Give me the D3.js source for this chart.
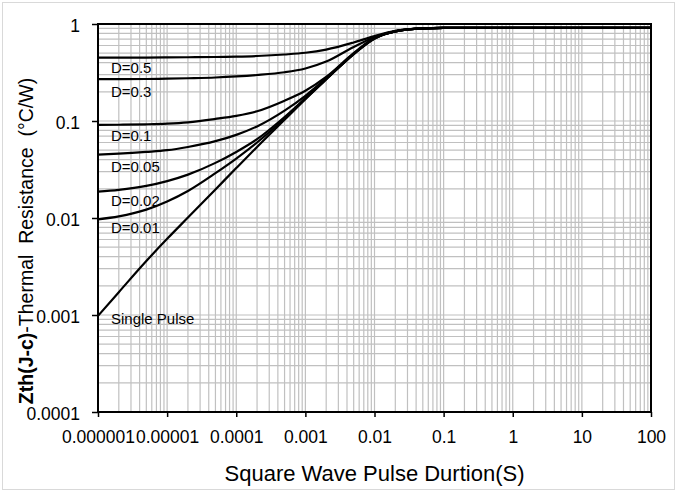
<!DOCTYPE html>
<html>
<head>
<meta charset="utf-8">
<script src="https://cdn.jsdelivr.net/npm/d3@7"></script>
<style>
  body { margin: 0; background: #fff; }
  text { font-family: "Liberation Sans", Arial, sans-serif; fill: #000; }
</style>
</head>
<body>
<svg id="chart"></svg>
<script>
// pulse duration (s) and Zth(j-c)
const durations = [1e-6, 2e-6, 5e-6, 1e-5, 2e-5, 5e-5, 1e-4, 2e-4, 5e-4, 1e-3, 2e-3, 5e-3, 1e-2, 2e-2, 5e-2, 0.1, 1, 10, 100];
const duty05 = [0.450, 0.450, 0.451, 0.452, 0.454, 0.457, 0.461, 0.468, 0.485, 0.505, 0.545, 0.645, 0.75, 0.85, 0.90, 0.91, 0.91, 0.91, 0.91];
const duty03 = [0.270, 0.270, 0.271, 0.273, 0.276, 0.281, 0.288, 0.298, 0.318, 0.348, 0.41, 0.58, 0.73, 0.845, 0.90, 0.91, 0.91, 0.91, 0.91];
const duty01 = [0.091, 0.0915, 0.0925, 0.094, 0.097, 0.105, 0.113, 0.126, 0.162, 0.205, 0.285, 0.50, 0.72, 0.84, 0.90, 0.91, 0.91, 0.91, 0.91];
const duty005 = [0.045, 0.046, 0.048, 0.050, 0.054, 0.062, 0.072, 0.088, 0.128, 0.182, 0.275, 0.495, 0.715, 0.84, 0.90, 0.91, 0.91, 0.91, 0.91];
const duty002 = [0.0187, 0.0195, 0.0214, 0.024, 0.028, 0.037, 0.048, 0.065, 0.110, 0.172, 0.272, 0.49, 0.71, 0.84, 0.90, 0.91, 0.91, 0.91, 0.91];
const duty001 = [0.0097, 0.0104, 0.0122, 0.0148, 0.019, 0.029, 0.041, 0.060, 0.106, 0.170, 0.27, 0.49, 0.71, 0.84, 0.90, 0.91, 0.91, 0.91, 0.91];
const singlePulse = [0.00098, 0.00172, 0.0036, 0.0061, 0.0101, 0.0197, 0.0327, 0.054, 0.103, 0.168, 0.268, 0.49, 0.71, 0.84, 0.90, 0.91, 0.91, 0.91, 0.91];

const seriesNames = ["D=0.5", "D=0.3", "D=0.1", "D=0.05", "D=0.02", "D=0.01", "Single Pulse"];
const seriesValues = [duty05, duty03, duty01, duty005, duty002, duty001, singlePulse];

const xTicks = [1e-6, 1e-5, 1e-4, 1e-3, 1e-2, 0.1, 1, 10, 100];
const xTickLabels = ["0.000001", "0.00001", "0.0001", "0.001", "0.01", "0.1", "1", "10", "100"];
const yTicks = [1e-4, 1e-3, 1e-2, 0.1, 1];
const yTickLabels = ["0.0001", "0.001", "0.01", "0.1", "1"];

const margin = {top: 24, right: 26, bottom: 80, left: 98},
    svgWidth = 677,
    svgHeight = 492,
    width = svgWidth - margin.left - margin.right,
    height = svgHeight - margin.top - margin.bottom;

const chart = d3.select('#chart')
    .attr("width", svgWidth)
    .attr("height", svgHeight);

// light outer frame
chart.append("rect")
    .attr("x", 2.5).attr("y", 2.5)
    .attr("width", svgWidth - 5).attr("height", svgHeight - 5)
    .attr("fill", "none")
    .attr("stroke", "#d9d9d9");

const innerChart = chart.append("g")
    .attr("transform", "translate(" + margin.left + "," + margin.top + ")");

var xScale = d3.scaleLog().domain([1e-6, 100]).range([0, width]);
var yScale = d3.scaleLog().domain([1e-4, 1]).range([height, 0]);

// grid
innerChart.append("g").selectAll("line")
    .data(xScale.ticks())
    .enter().append("line")
    .attr("x1", d => xScale(d)).attr("x2", d => xScale(d))
    .attr("y1", 0).attr("y2", height)
    .attr("stroke", "#c0c0c0").attr("stroke-width", 1.2);

innerChart.append("g").selectAll("line")
    .data(yScale.ticks())
    .enter().append("line")
    .attr("y1", d => yScale(d)).attr("y2", d => yScale(d))
    .attr("x1", 0).attr("x2", width)
    .attr("stroke", "#c0c0c0").attr("stroke-width", 1.2);

var xAxis = d3.axisBottom(xScale)
    .tickValues(xTicks)
    .tickSize(5)
    .tickSizeOuter(0)
    .tickPadding(14)
    .tickFormat((d, i) => xTickLabels[i]);

var yAxis = d3.axisLeft(yScale)
    .tickValues(yTicks)
    .tickSize(6)
    .tickSizeOuter(0)
    .tickPadding(12)
    .tickFormat((d, i) => yTickLabels[i]);

const gx = innerChart.append("g")
    .attr("transform", "translate(0," + height + ")")
    .call(xAxis);
const gy = innerChart.append("g").call(yAxis);

[gx, gy].forEach(g => {
    g.select(".domain").remove();
    g.selectAll(".tick line").attr("stroke", "#000").attr("stroke-width", 1.5);
    g.selectAll(".tick text")
        .style("font-family", '"Liberation Sans", Arial, sans-serif')
        .style("font-size", "17.5px");
});
gy.selectAll(".tick text").attr("dy", "0.45em");

// curves
var valueline = d3.line()
    .x(d => xScale(d.t))
    .y(d => yScale(d.z))
    .curve(d3.curveMonotoneX);

seriesValues.forEach(function(vals) {
    innerChart.append("path")
        .datum(durations.map((t, i) => ({t: t, z: vals[i]})))
        .attr("fill", "none")
        .attr("stroke", "#000")
        .attr("stroke-width", 2.2)
        .attr("d", valueline);
});

// plot frame
innerChart.append("rect")
    .attr("width", width).attr("height", height)
    .attr("fill", "none")
    .attr("stroke", "#000")
    .attr("stroke-width", 2);

// curve labels
const labelY = [73, 97, 141, 172, 206, 233, 324];
seriesNames.forEach(function(name, i) {
    chart.append("text")
        .attr("x", 111)
        .attr("y", labelY[i])
        .style("font-size", "15px")
        .text(name);
});

// axis titles
chart.append("text")
    .attr("x", margin.left + width / 2)
    .attr("y", 481)
    .attr("text-anchor", "middle")
    .style("font-size", "22px")
    .text("Square Wave Pulse Durtion(S)");

const yTitle = chart.append("text")
    .attr("transform", "translate(33,241) rotate(-90)")
    .attr("text-anchor", "middle")
    .style("font-size", "19.5px")
    .style("white-space", "pre");
yTitle.append("tspan").style("font-weight", "bold").text("Zth(J-c)");
yTitle.append("tspan").text("-Thermal  Resistance  (°C/W)");
</script>
</body>
</html>
